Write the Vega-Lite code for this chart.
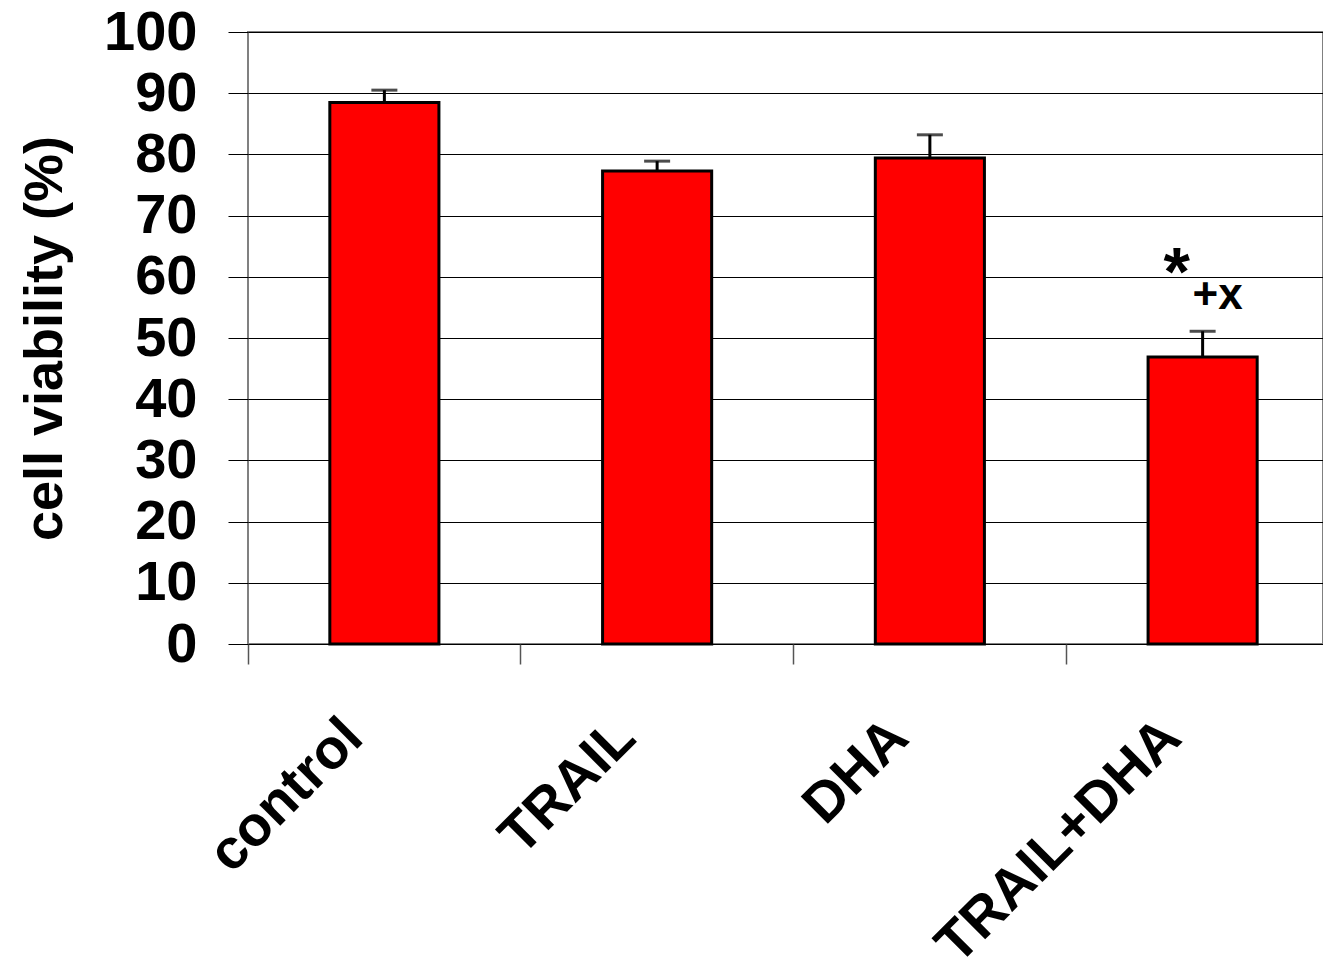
{
  "$schema": "https://vega.github.io/schema/vega-lite/v6.json",
  "width": 1075,
  "height": 612,
  "autosize": "none",
  "padding": {"left": 248, "top": 32, "right": 0, "bottom": 327},
  "background": "white",
  "config": {
    "font": "Liberation Sans",
    "view": {"stroke": "#808080", "strokeWidth": 2}
  },
  "data": {
    "values": [
      {"group": "control", "mean": 88.5, "hi": 90.5, "sig1": "", "sig2": ""},
      {"group": "TRAIL", "mean": 77.3, "hi": 78.9, "sig1": "", "sig2": ""},
      {"group": "DHA", "mean": 79.4, "hi": 83.2, "sig1": "", "sig2": ""},
      {"group": "TRAIL+DHA", "mean": 46.9, "hi": 51.1, "sig1": "*", "sig2": "+x"}
    ]
  },
  "encoding": {
    "x": {
      "field": "group",
      "type": "nominal",
      "sort": null,
      "scale": {"paddingInner": 0, "paddingOuter": 0, "range": [0, 1091]},
      "axis": {
        "title": null,
        "domain": false,
        "bandPosition": 0,
        "ticks": true,
        "tickSize": 20,
        "tickColor": "#555555",
        "tickWidth": 1.5,
        "labelAngle": -45,
        "labelAlign": "right",
        "labelBaseline": "top",
        "labelFont": "Liberation Sans",
        "labelFontSize": 56,
        "labelFontWeight": "bold",
        "labelColor": "black",
        "labelPadding": 45,
        "labelOffset": -50,
        "labelOverlap": false,
        "labelBound": false,
        "labelLimit": 0
      }
    }
  },
  "layer": [
    {
      "mark": {"type": "bar", "width": {"band": 0.4}, "fill": "#FF0000", "stroke": "black", "strokeWidth": 3},
      "encoding": {
        "y": {
          "field": "mean",
          "type": "quantitative",
          "scale": {"domain": [0, 100], "nice": false},
          "axis": {
            "title": "cell viability (%)",
            "titleFont": "Liberation Sans",
            "titleFontSize": 54,
            "titleFontWeight": "bold",
            "titleColor": "black",
            "titleAngle": -90,
            "titleAlign": "center",
            "titleBaseline": "middle",
            "titleX": -203,
            "titleY": 306,
            "values": [0, 10, 20, 30, 40, 50, 60, 70, 80, 90, 100],
            "domain": false,
            "grid": true,
            "gridColor": "black",
            "gridWidth": 1,
            "ticks": true,
            "tickSize": 20,
            "tickColor": "black",
            "tickWidth": 1,
            "labelFont": "Liberation Sans",
            "labelFontSize": 56,
            "labelFontWeight": "bold",
            "labelColor": "black",
            "labelPadding": 31,
            "labelBaseline": "middle",
            "labelOverlap": false,
            "labelBound": false,
            "labelFlush": false
          }
        }
      }
    },
    {
      "mark": {"type": "rule", "color": "black", "strokeWidth": 3},
      "encoding": {
        "y": {"field": "mean", "type": "quantitative"},
        "y2": {"field": "hi"}
      }
    },
    {
      "mark": {"type": "tick", "color": "black", "size": 26, "thickness": 3, "orient": "horizontal"},
      "encoding": {
        "y": {"field": "hi", "type": "quantitative"}
      }
    },
    {
      "mark": {"type": "text", "font": "Liberation Sans", "fontWeight": "bold", "fontSize": 68, "baseline": "alphabetic", "align": "center", "dx": -26, "dy": -36, "color": "black"},
      "encoding": {
        "y": {"field": "hi", "type": "quantitative"},
        "text": {"field": "sig1"}
      }
    },
    {
      "mark": {"type": "text", "font": "Liberation Sans", "fontWeight": "bold", "fontSize": 44, "baseline": "alphabetic", "align": "center", "dx": 15, "dy": -22, "color": "black"},
      "encoding": {
        "y": {"field": "hi", "type": "quantitative"},
        "text": {"field": "sig2"}
      }
    }
  ]
}
